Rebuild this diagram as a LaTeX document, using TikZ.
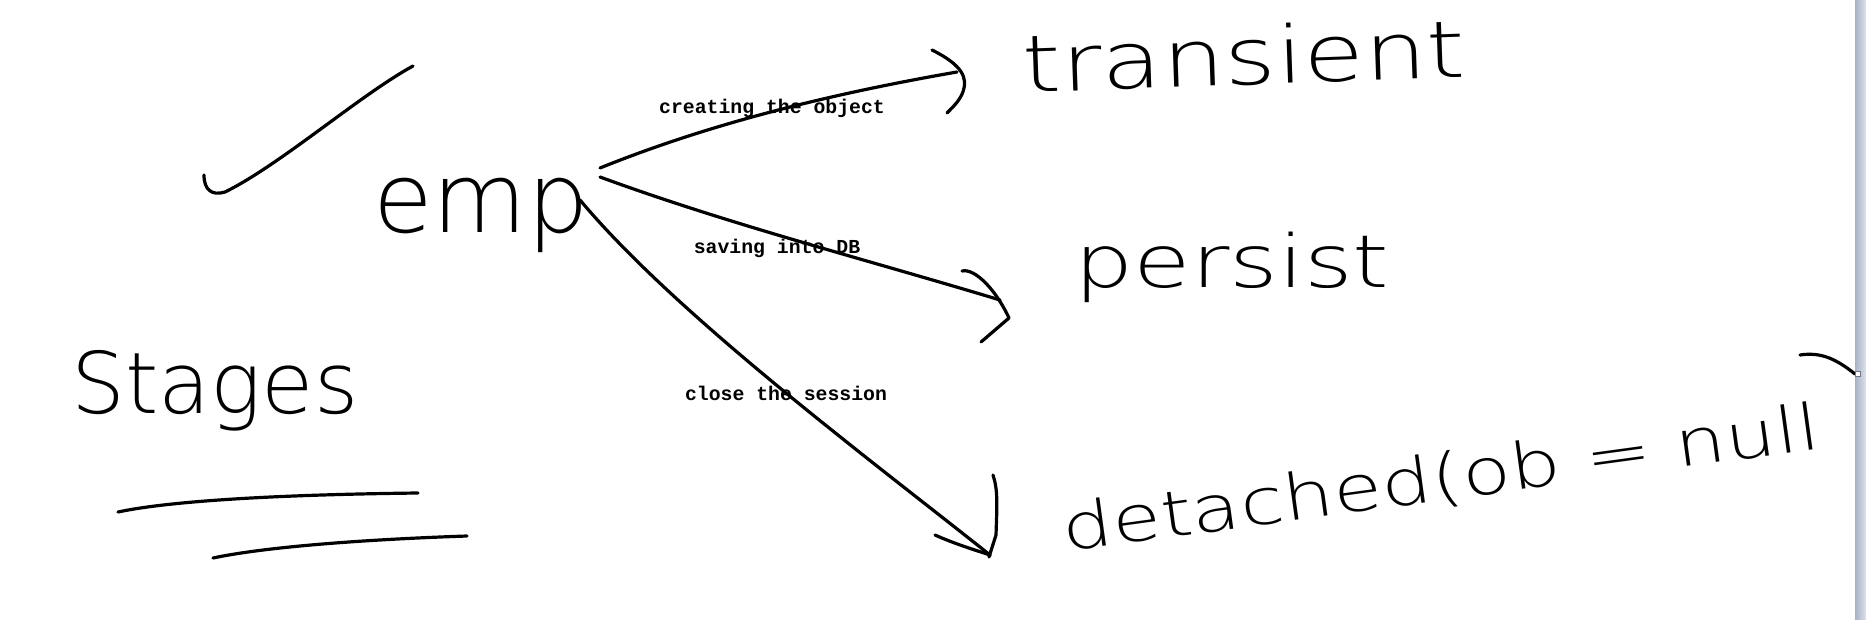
\documentclass[tikz,border=0pt]{standalone}
\usepackage{fontspec}
\newfontfamily\hand{DejaVu Sans ExtraLight}
\newfontfamily\mono{Liberation Mono}
\definecolor{sbL}{HTML}{A9B3C6}
\definecolor{sbR}{HTML}{DCE2EC}
\definecolor{handle}{HTML}{6F7680}
\begin{document}
\begin{tikzpicture}[x=0.5pt,y=-0.5pt,
  ink/.style={line width=1.6pt,line cap=round,line join=round},
  hw/.style={inner sep=0pt,anchor=base},
  lbl/.style={font=\mono\bfseries\fontsize{9.9}{11}\selectfont,inner sep=0pt}]
\useasboundingbox (0,0) rectangle (1866,620);
\fill[white] (0,0) rectangle (1866,620);
% scrollbar strip
\shade[left color=sbL,right color=sbR] (1855,0) rectangle (1866,620);
% handwritten words
\node[hw,font=\hand\fontsize{48.5}{50}\selectfont] (emp) at (481,233) {emp};
\node[hw,font=\hand\fontsize{39.5}{42}\selectfont,rotate=2,xscale=1.25] (transient) at (1245,85) {transient};
\node[hw,font=\hand\fontsize{36.5}{40}\selectfont,xscale=1.28] (persist) at (1232,287) {persist};
\node[hw,font=\hand\fontsize{32}{36}\selectfont,rotate=7.8,xscale=1.24] (detached) at (1444,500) {detached(ob = null};
\node[hw,font=\hand\fontsize{42.5}{46}\selectfont] (stages) at (215,413) {Stages};
% labels
\node[lbl] (l1) at (772,108) {creating the object};
\node[lbl] (l2) at (777,248) {saving into DB};
\node[lbl] (l3) at (786,393) {close the session};
% connector end points
\coordinate (a1s) at (600,168);
\coordinate (a1t) at (957,72);
\coordinate (a2s) at (600,177);
\coordinate (a2t) at (1000,300);
\coordinate (a3s) at (580,200);
\coordinate (a3t) at (990,555);
% connectors
\draw[ink] (a1s) .. controls (714,122) and (836,93) .. (a1t);
\draw[ink] (932,50) .. controls (952,60) and (968,72) .. (964,88) .. controls (962,98) and (955,105) .. (947,113);
\draw[ink] (a2s) .. controls (731,225) and (868,260) .. (a2t);
\draw[ink] (962,271) .. controls (975,268) and (996,290) .. (1009,318) -- (981,342);
\draw[ink] (a3s) .. controls (676,315) and (872,461) .. (a3t);
\draw[ink] (993,475) .. controls (998,490) and (997,505) .. (996,535) -- (989,557);
\draw[ink] (935,535) .. controls (955,544) and (975,550) .. (990,555);
% check-like stroke
\draw[ink] (204,175) .. controls (204,190) and (212,196) .. (225,192) .. controls (280,165) and (360,95) .. (413,66);
% underlines under Stages
\draw[ink] (118,512) .. controls (160,503) and (250,495) .. (418,493);
\draw[ink] (213,558) .. controls (260,548) and (350,540) .. (467,536);
% closing stroke at right edge
\draw[ink] (1800,355) .. controls (1820,352) and (1835,358) .. (1855,374);
\draw[handle,fill=white,line width=0.5pt] (1855,371) rectangle (1860,376);
\end{tikzpicture}
\end{document}
